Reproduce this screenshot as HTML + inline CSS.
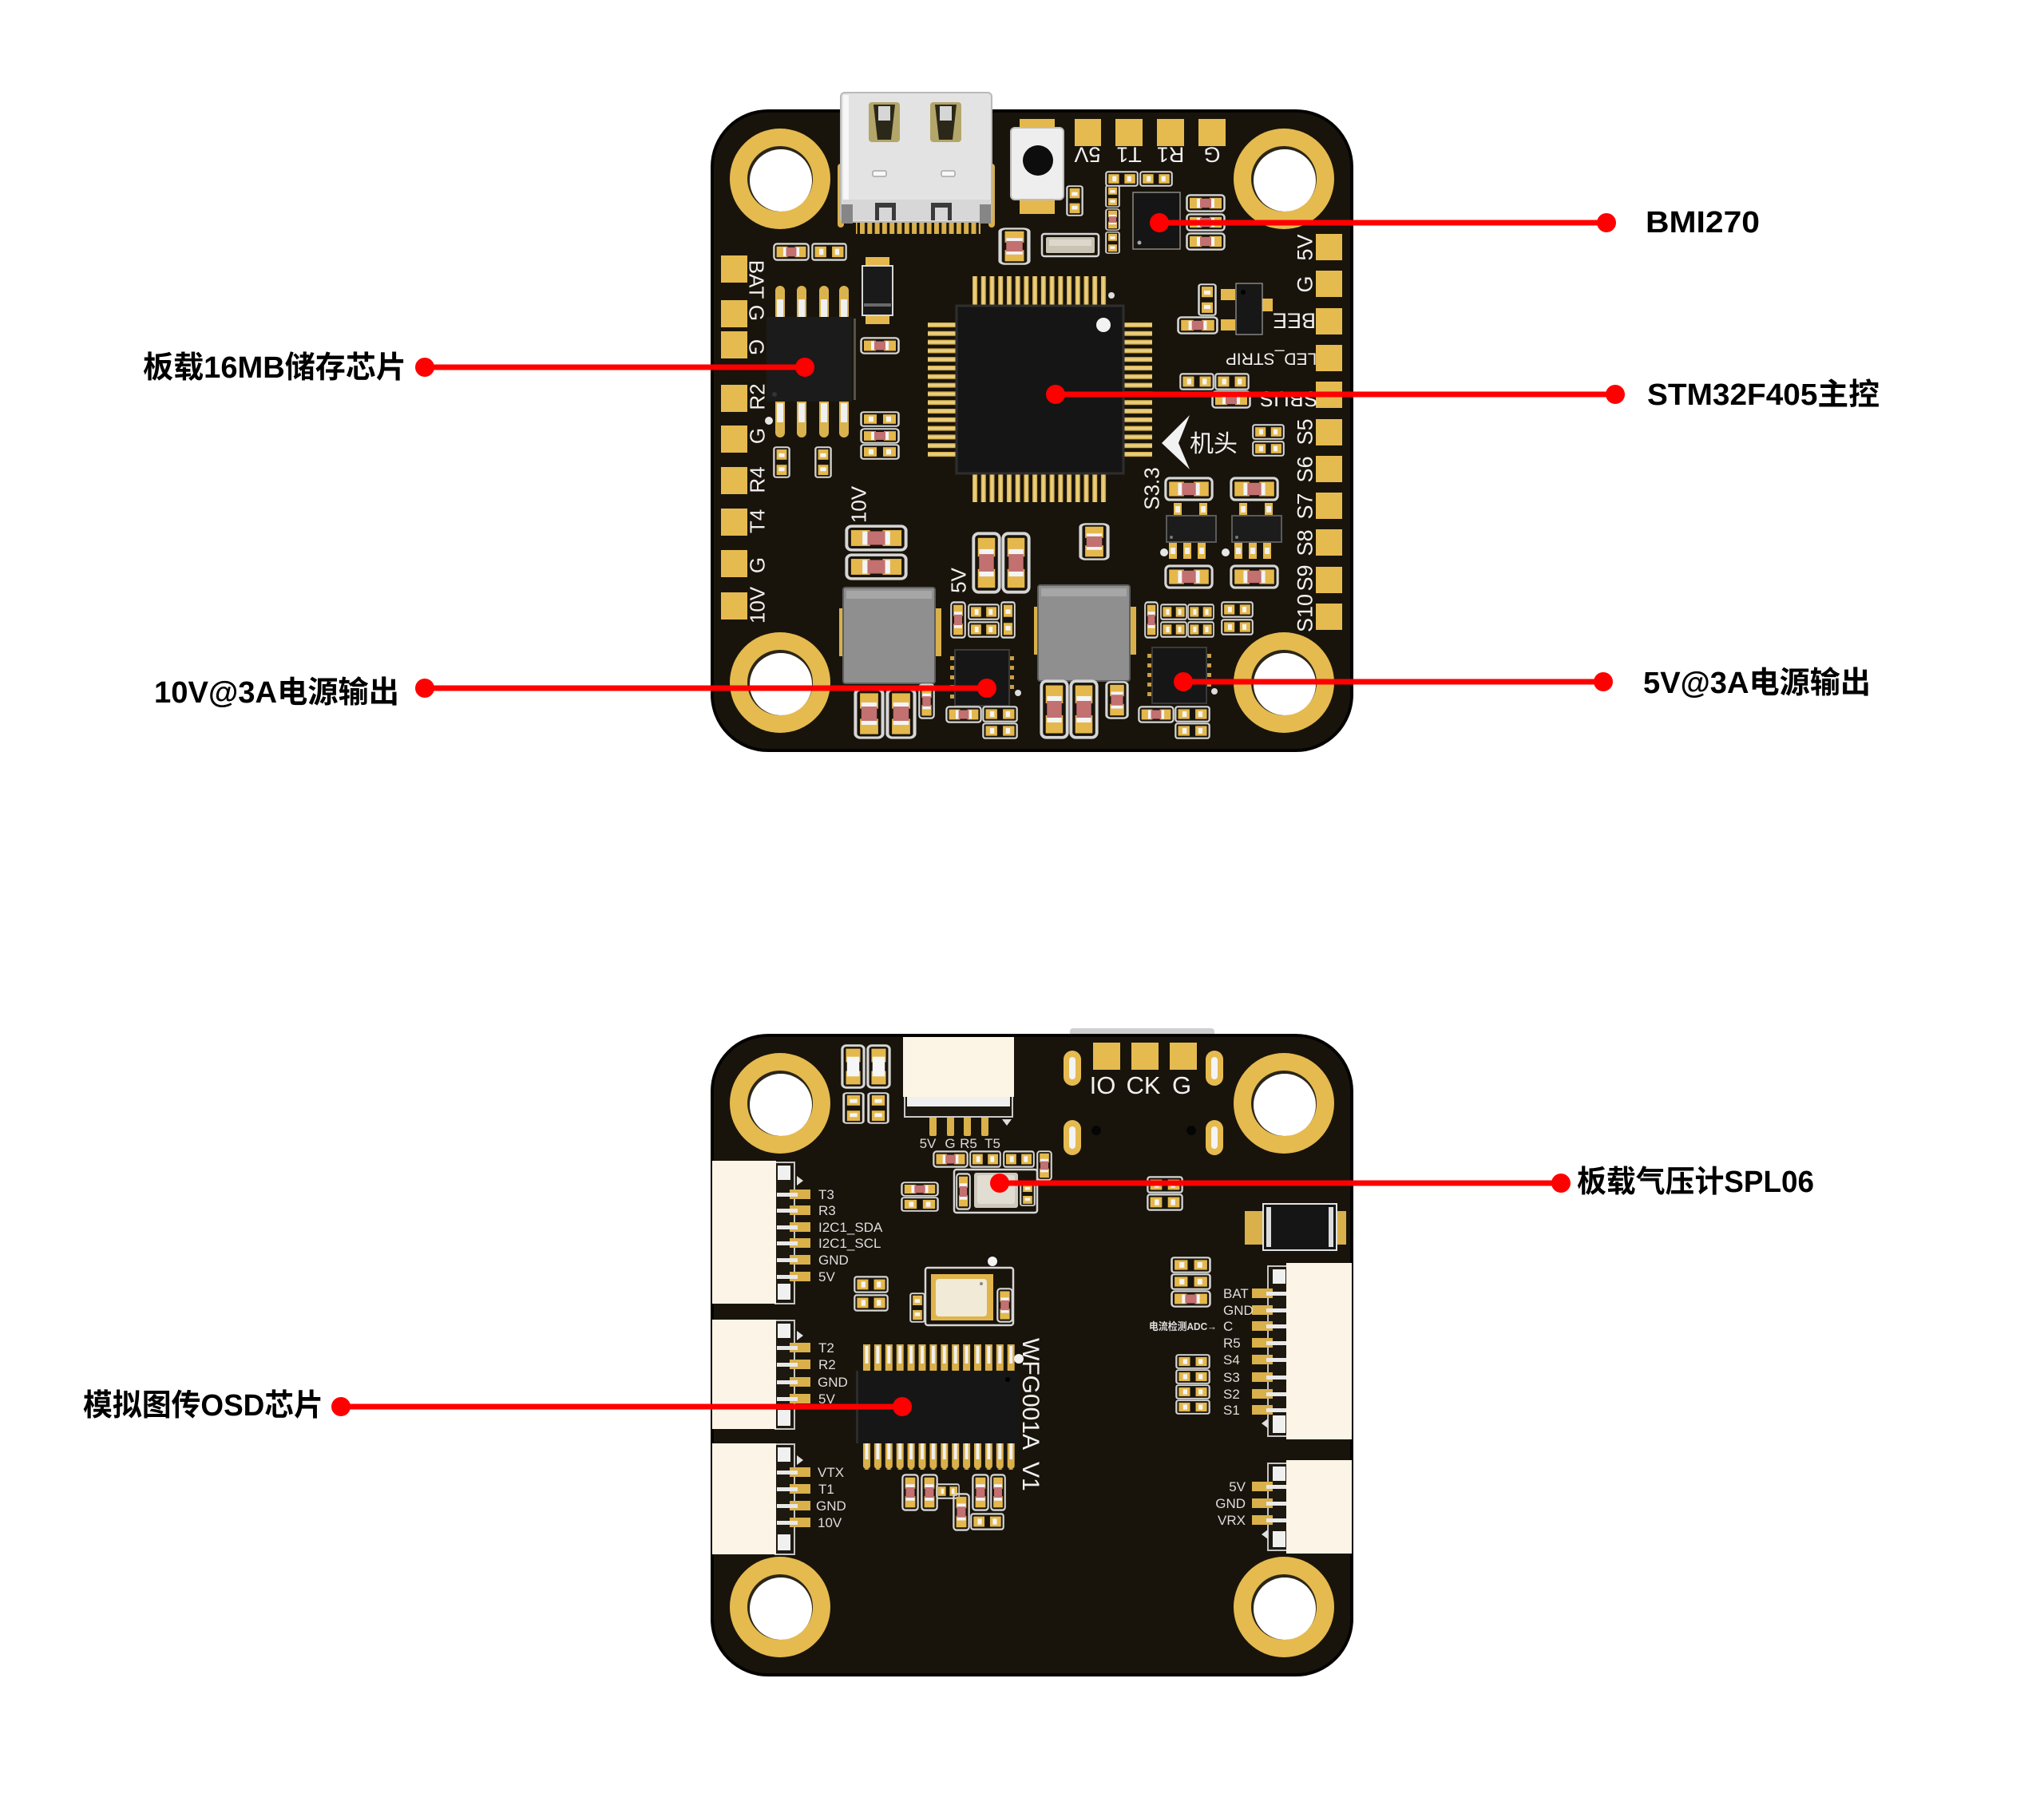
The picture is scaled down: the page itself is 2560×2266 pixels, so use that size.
<!DOCTYPE html>
<html><head><meta charset="utf-8">
<style>
html,body{margin:0;padding:0;background:#fff;}
svg{display:block;}
</style></head>
<body>
<svg xmlns="http://www.w3.org/2000/svg" width="2560" height="2266" viewBox="0 0 2560 2266">
<defs>
<symbol id="capH" viewBox="0 0 50 24" preserveAspectRatio="none">
<rect x="1.5" y="1.5" width="47" height="21" rx="4" fill="none" stroke="#d6d6d6" stroke-width="2.5"/>
<rect x="5" y="5" width="15" height="14" fill="#e4b84c"/>
<rect x="30" y="5" width="15" height="14" fill="#e4b84c"/>
<rect x="14" y="6" width="22" height="12" fill="#c27070"/>
<rect x="14" y="6" width="4" height="12" fill="#f4f4f4"/>
<rect x="32" y="6" width="4" height="12" fill="#f4f4f4"/>
</symbol>
<symbol id="capV" viewBox="0 0 24 50" preserveAspectRatio="none">
<rect x="1.5" y="1.5" width="21" height="47" rx="4" fill="none" stroke="#d6d6d6" stroke-width="2.5"/>
<rect x="5" y="5" width="14" height="15" fill="#e4b84c"/>
<rect x="5" y="30" width="14" height="15" fill="#e4b84c"/>
<rect x="6" y="14" width="12" height="22" fill="#c27070"/>
<rect x="6" y="14" width="12" height="4" fill="#f4f4f4"/>
<rect x="6" y="32" width="12" height="4" fill="#f4f4f4"/>
</symbol>
<symbol id="capW" viewBox="0 0 24 50" preserveAspectRatio="none">
<rect x="1.5" y="1.5" width="21" height="47" rx="4" fill="none" stroke="#d6d6d6" stroke-width="2.5"/>
<rect x="5" y="5" width="14" height="15" fill="#e4b84c"/>
<rect x="5" y="30" width="14" height="15" fill="#e4b84c"/>
<rect x="6" y="14" width="12" height="22" fill="#f6f6f6"/>
</symbol>
<symbol id="resS" viewBox="0 0 50 24" preserveAspectRatio="none">
<rect x="1.5" y="1.5" width="47" height="21" rx="3" fill="none" stroke="#d6d6d6" stroke-width="2.5"/>
<rect x="5" y="5" width="16" height="14" fill="#e4b84c"/>
<rect x="29" y="5" width="16" height="14" fill="#e4b84c"/>
<rect x="11" y="8" width="6" height="8" fill="#f4f4f4"/>
<rect x="33" y="8" width="6" height="8" fill="#f4f4f4"/>
</symbol>
<symbol id="resV" viewBox="0 0 24 50" preserveAspectRatio="none">
<rect x="1.5" y="1.5" width="21" height="47" rx="3" fill="none" stroke="#d6d6d6" stroke-width="2.5"/>
<rect x="5" y="5" width="14" height="16" fill="#e4b84c"/>
<rect x="5" y="29" width="14" height="16" fill="#e4b84c"/>
<rect x="8" y="11" width="8" height="6" fill="#f4f4f4"/>
<rect x="8" y="33" width="8" height="6" fill="#f4f4f4"/>
</symbol>
<pattern id="pinH" x="1218" y="0" width="10.73" height="40" patternUnits="userSpaceOnUse"><rect x="0" y="0" width="6" height="40" fill="#dab34e"/><rect x="1.5" y="0" width="3" height="40" fill="#e9cf84"/></pattern>
<pattern id="pinV" x="0" y="404" width="40" height="10.8" patternUnits="userSpaceOnUse"><rect x="0" y="0" width="40" height="6" fill="#dab34e"/><rect x="0" y="1.5" width="40" height="3" fill="#e9cf84"/></pattern>
<pattern id="usbP" x="1077" y="0" width="9.3" height="40" patternUnits="userSpaceOnUse"><rect x="0" y="0" width="6" height="40" fill="#d9b04a"/></pattern>
<pattern id="osdP" x="1081" y="0" width="13.9" height="40" patternUnits="userSpaceOnUse"><rect x="0" y="0" width="9" height="40" rx="4" fill="#d9b04a"/><rect x="2.5" y="6" width="4" height="22" fill="#f1f1f1"/></pattern>
</defs>

<!-- ================= TOP BOARD ================= -->
<rect x="892" y="139" width="801" height="801" rx="70" fill="#19140b" stroke="#040302" stroke-width="4"/>

<g>
<circle cx="977" cy="224" r="63" fill="#e5ba4f"/><circle cx="977" cy="224" r="41" fill="#2a2618"/><circle cx="978" cy="226" r="39" fill="#fff"/>
<circle cx="1608" cy="224" r="63" fill="#e5ba4f"/><circle cx="1608" cy="224" r="41" fill="#2a2618"/><circle cx="1609" cy="226" r="39" fill="#fff"/>
<circle cx="977" cy="855" r="63" fill="#e5ba4f"/><circle cx="977" cy="855" r="41" fill="#2a2618"/><circle cx="978" cy="857" r="39" fill="#fff"/>
<circle cx="1608" cy="855" r="63" fill="#e5ba4f"/><circle cx="1608" cy="855" r="41" fill="#2a2618"/><circle cx="1609" cy="857" r="39" fill="#fff"/>
</g>

<!-- USB-C -->
<g>
<rect x="1072" y="270" width="156" height="23" fill="url(#usbP)"/>
<rect x="1049" y="205" width="8" height="80" rx="4" fill="#d9b04a"/>
<rect x="1238" y="205" width="8" height="80" rx="4" fill="#d9b04a"/>
<rect x="1053" y="116" width="189" height="162" rx="5" fill="#e3e3e3" stroke="#b9b9b9" stroke-width="2"/>
<rect x="1056" y="119" width="7" height="150" fill="#f7f7f7"/>
<rect x="1088" y="128" width="39" height="50" rx="4" fill="#b3a66a"/>
<path d="M1094 131 h27 l-5 44 h-17z" fill="#2c2819"/>
<rect x="1100" y="133" width="15" height="18" fill="#d6d6d6"/>
<rect x="1165" y="128" width="39" height="50" rx="4" fill="#b3a66a"/>
<path d="M1171 131 h27 l-5 44 h-17z" fill="#2c2819"/>
<rect x="1177" y="133" width="15" height="18" fill="#d6d6d6"/>
<rect x="1093" y="214" width="17" height="7" rx="2" fill="#f8f8f8" stroke="#a8a8a8" stroke-width="1.5"/>
<rect x="1179" y="214" width="17" height="7" rx="2" fill="#f8f8f8" stroke="#a8a8a8" stroke-width="1.5"/>
<rect x="1055" y="250" width="185" height="26" fill="#d7d7d7"/>
<path d="M1096 276 v-22 h26 v22 h-5 v-16 h-16 v16z" fill="#3a3a3a"/>
<path d="M1166 276 v-22 h26 v22 h-5 v-16 h-16 v16z" fill="#3a3a3a"/>
<rect x="1054" y="256" width="14" height="24" fill="#868686"/>
<rect x="1227" y="256" width="14" height="24" fill="#868686"/>
</g>

<!-- button -->
<rect x="1277" y="149" width="44" height="14" fill="#e4b84c"/>
<rect x="1277" y="247" width="44" height="21" fill="#e4b84c"/>
<rect x="1266" y="160" width="66" height="90" rx="5" fill="#eeeeee" stroke="#bdbdbd" stroke-width="2"/>
<circle cx="1300" cy="201" r="19" fill="#0d0d0d"/>

<g fill="#e5ba4f">
<rect x="1346" y="149" width="33" height="34"/><rect x="1397" y="149" width="34" height="34"/>
<rect x="1449" y="149" width="34" height="34"/><rect x="1501" y="149" width="34" height="34"/>
</g>

<g fill="#e5ba4f">
<rect x="1648" y="293" width="33" height="33"/><rect x="1648" y="339" width="33" height="33"/>
<rect x="1648" y="386" width="33" height="33"/><rect x="1648" y="432" width="33" height="33"/>
<rect x="1648" y="478" width="33" height="33"/><rect x="1648" y="525" width="33" height="33"/>
<rect x="1648" y="571" width="33" height="33"/><rect x="1648" y="617" width="33" height="33"/>
<rect x="1648" y="663" width="33" height="33"/><rect x="1648" y="710" width="33" height="33"/>
<rect x="1648" y="756" width="33" height="33"/>
</g>

<g fill="#e5ba4f">
<rect x="903" y="320" width="33" height="34"/><rect x="903" y="376" width="33" height="34"/>
<rect x="903" y="415" width="33" height="34"/><rect x="903" y="482" width="33" height="34"/>
<rect x="903" y="533" width="33" height="34"/><rect x="903" y="585" width="33" height="34"/>
<rect x="903" y="637" width="33" height="34"/><rect x="903" y="689" width="33" height="34"/>
<rect x="903" y="742" width="33" height="34"/>
</g>

<!-- flash SOIC-8 -->
<g>
<g fill="#dab34e">
<rect x="971" y="358" width="12" height="44" rx="6"/><rect x="998" y="358" width="12" height="44" rx="6"/>
<rect x="1026" y="358" width="12" height="44" rx="6"/><rect x="1051" y="358" width="12" height="44" rx="6"/>
<rect x="971" y="498" width="12" height="50" rx="6"/><rect x="998" y="498" width="12" height="50" rx="6"/>
<rect x="1026" y="498" width="12" height="50" rx="6"/><rect x="1051" y="498" width="12" height="50" rx="6"/>
</g>
<g fill="#f0f0f0">
<rect x="973" y="375" width="8" height="22"/><rect x="1000" y="375" width="8" height="22"/>
<rect x="1028" y="375" width="8" height="22"/><rect x="1053" y="375" width="8" height="22"/>
<rect x="973" y="505" width="8" height="24"/><rect x="1000" y="505" width="8" height="24"/>
<rect x="1028" y="505" width="8" height="24"/><rect x="1053" y="505" width="8" height="24"/>
</g>
<rect x="960" y="397" width="107" height="106" fill="#1b1b1b"/>
<rect x="1069" y="399" width="3" height="102" fill="#55524a"/>
<circle cx="970" cy="494" r="3" fill="#333"/>
<circle cx="963" cy="527" r="5" fill="#e6e6e6"/>
</g>

<rect x="1084" y="322" width="30" height="14" fill="#e4b84c"/>
<rect x="1084" y="393" width="30" height="13" fill="#e4b84c"/>
<rect x="1080" y="333" width="38" height="62" fill="#1a1a1a" stroke="#d8d8d8" stroke-width="2"/>
<rect x="1082" y="380" width="34" height="4" fill="#6a6a6a"/>

<use href="#capH" x="968" y="304" width="46" height="23"/>
<use href="#resS" x="1016" y="304" width="45" height="23"/>
<use href="#capH" x="1077" y="422" width="50" height="22"/>
<use href="#resV" x="968" y="559" width="22" height="40"/>
<use href="#resV" x="1020" y="559" width="22" height="40"/>
<use href="#resS" x="1077" y="515" width="50" height="20"/>
<use href="#capH" x="1077" y="536" width="50" height="20"/>
<use href="#resS" x="1077" y="556" width="50" height="20"/>
<use href="#capV" x="1250" y="285" width="41" height="47"/>

<rect x="1305" y="293" width="71" height="28" rx="3" fill="none" stroke="#d6d6d6" stroke-width="2.5"/>
<rect x="1310" y="297" width="61" height="20" rx="2" fill="#c9c3b4"/>
<rect x="1314" y="300" width="53" height="8" fill="#ddd8cc"/>

<use href="#resV" x="1335" y="232" width="22" height="39"/>
<use href="#resV" x="1384" y="232" width="19" height="28"/>
<use href="#capV" x="1384" y="261" width="19" height="28"/>
<use href="#resV" x="1384" y="290" width="19" height="28"/>
<use href="#resS" x="1384" y="214" width="42" height="20"/>
<use href="#resS" x="1427" y="214" width="42" height="20"/>

<rect x="1419" y="241" width="59" height="71" fill="none" stroke="#8a8a8a" stroke-width="1.5"/>
<rect x="1421" y="243" width="55" height="67" fill="#151515"/>
<circle cx="1427" cy="304" r="2.5" fill="#aaa"/>

<use href="#capH" x="1485" y="243" width="50" height="23"/>
<use href="#capH" x="1485" y="267" width="50" height="23"/>
<use href="#capH" x="1485" y="291" width="50" height="23"/>

<use href="#resV" x="1500" y="355" width="24" height="41"/>
<use href="#capH" x="1474" y="396" width="52" height="23"/>
<rect x="1529" y="362" width="18" height="14" fill="#e4b84c"/>
<rect x="1529" y="400" width="18" height="14" fill="#e4b84c"/>
<rect x="1580" y="374" width="14" height="16" fill="#e4b84c"/>
<rect x="1548" y="355" width="33" height="64" fill="#171717" stroke="#bbb" stroke-width="1"/>
<circle cx="1557" cy="366" r="3" fill="#000"/>

<use href="#resS" x="1477" y="467" width="44" height="22"/>
<use href="#resS" x="1521" y="467" width="44" height="22"/>
<use href="#capH" x="1517" y="489" width="50" height="23"/>

<!-- MCU -->
<rect x="1218" y="346" width="170" height="37" fill="url(#pinH)"/>
<rect x="1218" y="593" width="170" height="36" fill="url(#pinH)"/>
<rect x="1162" y="404" width="36" height="170" fill="url(#pinV)"/>
<rect x="1407" y="404" width="36" height="170" fill="url(#pinV)"/>
<rect x="1198" y="383" width="209" height="210" fill="#151515" stroke="#2e2e2e" stroke-width="3"/>
<circle cx="1382" cy="407" r="9" fill="#f2f2f2"/>
<circle cx="1392" cy="370" r="4" fill="#ddd"/>

<polygon points="1490,520 1455,555 1490,588 1476,555" fill="#f2f2f2"/>
<use href="#resS" x="1568" y="531" width="41" height="20"/>
<use href="#resS" x="1568" y="552" width="41" height="20"/>

<!-- SOT-23 pair -->
<g>
<use href="#capH" x="1458" y="597" width="62" height="31"/>
<rect x="1470" y="630" width="10" height="22" fill="#e4b84c"/><rect x="1502" y="630" width="10" height="22" fill="#e4b84c"/>
<rect x="1472" y="634" width="6" height="8" fill="#f0f0f0"/><rect x="1504" y="634" width="6" height="8" fill="#f0f0f0"/>
<rect x="1464" y="676" width="10" height="24" fill="#e4b84c"/><rect x="1482" y="676" width="10" height="24" fill="#e4b84c"/><rect x="1500" y="676" width="10" height="24" fill="#e4b84c"/>
<rect x="1466" y="686" width="6" height="8" fill="#f0f0f0"/><rect x="1484" y="686" width="6" height="8" fill="#f0f0f0"/><rect x="1502" y="686" width="6" height="8" fill="#f0f0f0"/>
<rect x="1461" y="646" width="62" height="33" fill="#1c1c1c" stroke="#5a5a5a" stroke-width="2"/>
<circle cx="1467" cy="673" r="2" fill="#777"/>
<circle cx="1458" cy="692" r="5" fill="#e6e6e6"/>
<use href="#capH" x="1458" y="707" width="62" height="31"/>
<use href="#capH" x="1540" y="597" width="62" height="31"/>
<rect x="1552" y="630" width="10" height="22" fill="#e4b84c"/><rect x="1584" y="630" width="10" height="22" fill="#e4b84c"/>
<rect x="1554" y="634" width="6" height="8" fill="#f0f0f0"/><rect x="1586" y="634" width="6" height="8" fill="#f0f0f0"/>
<rect x="1546" y="676" width="10" height="24" fill="#e4b84c"/><rect x="1564" y="676" width="10" height="24" fill="#e4b84c"/><rect x="1582" y="676" width="10" height="24" fill="#e4b84c"/>
<rect x="1548" y="686" width="6" height="8" fill="#f0f0f0"/><rect x="1566" y="686" width="6" height="8" fill="#f0f0f0"/><rect x="1584" y="686" width="6" height="8" fill="#f0f0f0"/>
<rect x="1543" y="646" width="62" height="33" fill="#1c1c1c" stroke="#5a5a5a" stroke-width="2"/>
<circle cx="1549" cy="673" r="2" fill="#777"/>
<circle cx="1535" cy="692" r="5" fill="#e6e6e6"/>
<use href="#capH" x="1540" y="707" width="62" height="31"/>
</g>

<use href="#capH" x="1058" y="657" width="79" height="34"/>
<use href="#capH" x="1058" y="693" width="79" height="34"/>
<use href="#capV" x="1351" y="655" width="39" height="47"/>
<use href="#capV" x="1217" y="666" width="37" height="78"/>
<use href="#capV" x="1254" y="666" width="37" height="78"/>
<use href="#capV" x="1190" y="753" width="20" height="47"/>
<use href="#resS" x="1212" y="756" width="40" height="21"/>
<use href="#resS" x="1212" y="778" width="40" height="21"/>
<use href="#resV" x="1253" y="753" width="19" height="47"/>

<rect x="1051" y="762" width="8" height="60" fill="#d9b04a"/>
<rect x="1169" y="762" width="10" height="60" fill="#d9b04a"/>
<rect x="1056" y="736" width="115" height="120" rx="3" fill="#8f8f8f" stroke="#5e5e5e" stroke-width="2"/>
<rect x="1060" y="740" width="107" height="10" fill="#a6a6a6"/>
<rect x="1295" y="760" width="8" height="60" fill="#d9b04a"/>
<rect x="1413" y="760" width="10" height="60" fill="#d9b04a"/>
<rect x="1300" y="733" width="115" height="120" rx="3" fill="#8f8f8f" stroke="#5e5e5e" stroke-width="2"/>
<rect x="1304" y="737" width="107" height="10" fill="#a6a6a6"/>

<g fill="#c9a045">
<rect x="1190" y="822" width="7" height="5"/><rect x="1190" y="834" width="7" height="5"/><rect x="1190" y="846" width="7" height="5"/><rect x="1190" y="858" width="7" height="5"/><rect x="1190" y="870" width="7" height="5"/>
<rect x="1263" y="822" width="7" height="5"/><rect x="1263" y="834" width="7" height="5"/><rect x="1263" y="846" width="7" height="5"/><rect x="1263" y="858" width="7" height="5"/>
<rect x="1437" y="819" width="7" height="5"/><rect x="1437" y="831" width="7" height="5"/><rect x="1437" y="843" width="7" height="5"/><rect x="1437" y="855" width="7" height="5"/><rect x="1437" y="867" width="7" height="5"/>
<rect x="1510" y="819" width="7" height="5"/><rect x="1510" y="831" width="7" height="5"/><rect x="1510" y="843" width="7" height="5"/><rect x="1510" y="855" width="7" height="5"/>
</g>
<rect x="1196" y="814" width="68" height="70" fill="#161616" stroke="#3a3a3a" stroke-width="2"/>
<circle cx="1275" cy="868" r="4" fill="#ddd"/>
<rect x="1443" y="811" width="68" height="70" fill="#161616" stroke="#3a3a3a" stroke-width="2"/>
<circle cx="1521" cy="866" r="4" fill="#ddd"/>

<use href="#capV" x="1069" y="862" width="39" height="64"/>
<use href="#capV" x="1109" y="862" width="39" height="64"/>
<use href="#capV" x="1150" y="856" width="21" height="45"/>
<use href="#capH" x="1184" y="884" width="46" height="22"/>
<use href="#resS" x="1230" y="884" width="45" height="21"/>
<use href="#resS" x="1230" y="905" width="45" height="21"/>
<use href="#capV" x="1302" y="851" width="37" height="75"/>
<use href="#capV" x="1339" y="851" width="37" height="75"/>
<use href="#capV" x="1384" y="853" width="30" height="48"/>
<use href="#capV" x="1433" y="753" width="18" height="47"/>
<use href="#resS" x="1453" y="756" width="34" height="21"/>
<use href="#resS" x="1487" y="756" width="34" height="21"/>
<use href="#resS" x="1453" y="778" width="34" height="21"/>
<use href="#resS" x="1487" y="778" width="34" height="21"/>
<use href="#resS" x="1529" y="753" width="41" height="21"/>
<use href="#resS" x="1529" y="775" width="41" height="21"/>
<use href="#capH" x="1425" y="884" width="46" height="22"/>
<use href="#resS" x="1471" y="884" width="45" height="21"/>
<use href="#resS" x="1471" y="905" width="45" height="21"/>

<g font-family="'Liberation Sans','Noto Sans CJK SC',sans-serif" fill="#f0f0f0" font-size="27" text-anchor="middle">
<text transform="translate(1362,194) rotate(180)" dy="0.36em">5V</text>
<text transform="translate(1414,194) rotate(180)" dy="0.36em">T1</text>
<text transform="translate(1466,194) rotate(180)" dy="0.36em">R1</text>
<text transform="translate(1518,194) rotate(180)" dy="0.36em">G</text>

<text transform="translate(1634,310) rotate(-90)" dy="0.36em">5V</text>
<text transform="translate(1634,356) rotate(-90)" dy="0.36em">G</text>
<text transform="translate(1621,402) rotate(180)" dy="0.36em">BEE</text>
<text transform="translate(1592,450) rotate(180)" dy="0.36em" font-size="21">LED_STRIP</text>
<text transform="translate(1614,500) rotate(180)" dy="0.36em">SBUS</text>
<text transform="translate(1634,541) rotate(-90)" dy="0.36em">S5</text>
<text transform="translate(1634,588) rotate(-90)" dy="0.36em">S6</text>
<text transform="translate(1634,634) rotate(-90)" dy="0.36em">S7</text>
<text transform="translate(1634,680) rotate(-90)" dy="0.36em">S8</text>
<text transform="translate(1634,724) rotate(-90)" dy="0.36em">S9</text>
<text transform="translate(1634,768) rotate(-90)" dy="0.36em">S10</text>

<text transform="translate(948,350) rotate(90)" dy="0.36em" font-size="26">BAT</text>
<text transform="translate(948,392) rotate(90)" dy="0.36em" font-size="26">G</text>
<text transform="translate(948,435) rotate(90)" dy="0.36em" font-size="26">G</text>
<text transform="translate(948,497) rotate(-90)" dy="0.36em" font-size="26">R2</text>
<text transform="translate(948,546) rotate(-90)" dy="0.36em" font-size="26">G</text>
<text transform="translate(948,601) rotate(-90)" dy="0.36em" font-size="26">R4</text>
<text transform="translate(948,653) rotate(-90)" dy="0.36em" font-size="26">T4</text>
<text transform="translate(948,708) rotate(-90)" dy="0.36em" font-size="26">G</text>
<text transform="translate(948,758) rotate(-90)" dy="0.36em" font-size="26">10V</text>

<text transform="translate(1075,632) rotate(-90)" dy="0.36em" font-size="26">10V</text>
<text transform="translate(1200,727) rotate(-90)" dy="0.36em" font-size="26">5V</text>
<text transform="translate(1442,612) rotate(-90)" dy="0.36em" font-size="26">S3.3</text>
<text x="1520" y="566" font-size="30">机头</text>
</g>

<!-- ================= BOTTOM BOARD ================= -->
<rect x="1340" y="1288" width="181" height="12" rx="4" fill="#cfcfcf"/>
<rect x="892" y="1297" width="801" height="801" rx="70" fill="#19140b" stroke="#040302" stroke-width="4"/>

<g>
<circle cx="977" cy="1382" r="63" fill="#e5ba4f"/><circle cx="977" cy="1382" r="41" fill="#2a2618"/><circle cx="978" cy="1384" r="39" fill="#fff"/>
<circle cx="1608" cy="1382" r="63" fill="#e5ba4f"/><circle cx="1608" cy="1382" r="41" fill="#2a2618"/><circle cx="1609" cy="1384" r="39" fill="#fff"/>
<circle cx="977" cy="2013" r="63" fill="#e5ba4f"/><circle cx="977" cy="2013" r="41" fill="#2a2618"/><circle cx="978" cy="2015" r="39" fill="#fff"/>
<circle cx="1608" cy="2013" r="63" fill="#e5ba4f"/><circle cx="1608" cy="2013" r="41" fill="#2a2618"/><circle cx="1609" cy="2015" r="39" fill="#fff"/>
</g>

<use href="#capW" x="1053" y="1308" width="31" height="56"/>
<use href="#capW" x="1085" y="1308" width="31" height="56"/>
<use href="#resV" x="1055" y="1368" width="28" height="40"/>
<use href="#resV" x="1086" y="1368" width="28" height="40"/>

<g fill="#d9b04a">
<rect x="1164" y="1384" width="9" height="39" rx="2"/><rect x="1186" y="1384" width="9" height="39" rx="2"/>
<rect x="1207" y="1384" width="9" height="39" rx="2"/><rect x="1229" y="1384" width="9" height="39" rx="2"/>
</g>
<rect x="1133" y="1370" width="135" height="29" fill="#1d1910" stroke="#c9c9c9" stroke-width="2"/>
<rect x="1136" y="1372" width="129" height="14" fill="#efefef"/>
<rect x="1131" y="1299" width="139" height="75" fill="#fcf4e4"/>
<polygon points="1255,1402 1267,1402 1261,1410" fill="#ddd"/>
<g font-family="'Liberation Sans',sans-serif" fill="#dcdcdc" font-size="17" text-anchor="middle">
<text x="1162" y="1438">5V</text><text x="1190" y="1438">G</text><text x="1213" y="1438">R5</text><text x="1243" y="1438">T5</text>
</g>

<g fill="#e5ba4f">
<rect x="1369" y="1306" width="34" height="34"/><rect x="1417" y="1306" width="34" height="34"/><rect x="1465" y="1306" width="34" height="34"/>
<rect x="1332" y="1316" width="22" height="44" rx="11"/><rect x="1510" y="1316" width="22" height="44" rx="11"/>
<rect x="1332" y="1403" width="22" height="44" rx="11"/><rect x="1510" y="1403" width="22" height="44" rx="11"/>
</g>
<g fill="#f4f4f4">
<rect x="1339" y="1324" width="8" height="28" rx="4"/><rect x="1517" y="1324" width="8" height="28" rx="4"/>
<rect x="1339" y="1411" width="8" height="28" rx="4"/><rect x="1517" y="1411" width="8" height="28" rx="4"/>
</g>
<circle cx="1373" cy="1416" r="6" fill="#050505"/>
<circle cx="1492" cy="1416" r="6" fill="#050505"/>
<g font-family="'Liberation Sans',sans-serif" fill="#f0f0f0" font-size="31" text-anchor="middle">
<text x="1381" y="1370">IO</text><text x="1432" y="1370">CK</text><text x="1480" y="1370">G</text>
</g>

<use href="#capH" x="1168" y="1441" width="45" height="22"/>
<use href="#resS" x="1214" y="1441" width="40" height="22"/>
<use href="#resS" x="1256" y="1441" width="40" height="22"/>
<use href="#capV" x="1298" y="1441" width="20" height="38"/>
<rect x="1195" y="1465" width="104" height="54" rx="3" fill="none" stroke="#d6d6d6" stroke-width="2.5"/>
<use href="#capV" x="1197" y="1469" width="19" height="47"/>
<rect x="1220" y="1469" width="55" height="44" rx="3" fill="#cfc9bd"/>
<rect x="1224" y="1472" width="47" height="36" rx="3" fill="#e2ddd2"/>
<use href="#resV" x="1277" y="1480" width="20" height="31"/>
<use href="#capH" x="1128" y="1480" width="48" height="19"/>
<use href="#resS" x="1128" y="1499" width="48" height="19"/>
<use href="#resS" x="1436" y="1473" width="46" height="22"/>
<use href="#resS" x="1436" y="1495" width="46" height="22"/>

<rect x="1559" y="1517" width="28" height="42" fill="#d9b04a"/>
<rect x="1670" y="1517" width="16" height="42" fill="#d9b04a"/>
<rect x="1582" y="1508" width="92" height="58" fill="#151515" stroke="#e2e2e2" stroke-width="2"/>
<rect x="1586" y="1512" width="6" height="50" fill="#dcdcdc"/>
<rect x="1664" y="1512" width="6" height="50" fill="#dcdcdc"/>

<use href="#resS" x="1466" y="1574" width="51" height="21"/>
<use href="#resS" x="1466" y="1595" width="51" height="21"/>
<use href="#capH" x="1466" y="1616" width="51" height="22"/>
<use href="#resS" x="1472" y="1696" width="44" height="19"/>
<use href="#resS" x="1472" y="1715" width="44" height="19"/>
<use href="#resS" x="1472" y="1734" width="44" height="19"/>
<use href="#resS" x="1472" y="1753" width="44" height="19"/>

<g>
<rect x="971" y="1456" width="24" height="177" fill="#1d1910" stroke="#c4c4c4" stroke-width="2"/>
<rect x="974" y="1460" width="16" height="18" fill="#f0f0f0"/><rect x="974" y="1608" width="16" height="20" fill="#f0f0f0"/>
<rect x="971" y="1654" width="24" height="136" fill="#1d1910" stroke="#c4c4c4" stroke-width="2"/>
<rect x="974" y="1658" width="16" height="18" fill="#f0f0f0"/><rect x="974" y="1766" width="16" height="20" fill="#f0f0f0"/>
<rect x="971" y="1809" width="24" height="138" fill="#1d1910" stroke="#c4c4c4" stroke-width="2"/>
<rect x="974" y="1813" width="16" height="18" fill="#f0f0f0"/><rect x="974" y="1922" width="16" height="20" fill="#f0f0f0"/>
<g fill="#d9b04a">
<rect x="989" y="1490" width="26" height="12"/><rect x="989" y="1510" width="26" height="12"/><rect x="989" y="1531" width="26" height="12"/>
<rect x="989" y="1551" width="26" height="12"/><rect x="989" y="1572" width="26" height="12"/><rect x="989" y="1593" width="26" height="12"/>
<rect x="989" y="1682" width="26" height="12"/><rect x="989" y="1703" width="26" height="12"/><rect x="989" y="1725" width="26" height="12"/><rect x="989" y="1746" width="26" height="12"/>
<rect x="989" y="1838" width="26" height="12"/><rect x="989" y="1859" width="26" height="12"/><rect x="989" y="1880" width="26" height="12"/><rect x="989" y="1901" width="26" height="12"/>
</g>
<g fill="#e8e8e8">
<rect x="973" y="1494" width="26" height="5"/><rect x="973" y="1514" width="26" height="5"/><rect x="973" y="1535" width="26" height="5"/>
<rect x="973" y="1555" width="26" height="5"/><rect x="973" y="1576" width="26" height="5"/><rect x="973" y="1597" width="26" height="5"/>
<rect x="973" y="1686" width="26" height="5"/><rect x="973" y="1707" width="26" height="5"/><rect x="973" y="1729" width="26" height="5"/><rect x="973" y="1750" width="26" height="5"/>
<rect x="973" y="1842" width="26" height="5"/><rect x="973" y="1863" width="26" height="5"/><rect x="973" y="1884" width="26" height="5"/><rect x="973" y="1905" width="26" height="5"/>
</g>
<rect x="892" y="1454" width="80" height="179" fill="#fcf4e6"/>
<rect x="892" y="1653" width="80" height="137" fill="#fcf4e6"/>
<rect x="892" y="1808" width="80" height="139" fill="#fcf4e6"/>
<polygon points="998,1473 1006,1479 998,1485" fill="#e0e0e0"/>
<polygon points="998,1667 1006,1673 998,1679" fill="#e0e0e0"/>
<polygon points="998,1823 1006,1829 998,1835" fill="#e0e0e0"/>
</g>
<g font-family="'Liberation Sans',sans-serif" fill="#dedede" font-size="17">
<text x="1025" y="1502">T3</text><text x="1025" y="1522">R3</text><text x="1025" y="1543">I2C1_SDA</text>
<text x="1025" y="1563">I2C1_SCL</text><text x="1025" y="1584">GND</text><text x="1025" y="1605">5V</text>
<text x="1025" y="1694">T2</text><text x="1025" y="1715">R2</text><text x="1024" y="1737">GND</text><text x="1025" y="1758">5V</text>
<text x="1024" y="1850">VTX</text><text x="1025" y="1871">T1</text><text x="1022" y="1892">GND</text><text x="1024" y="1913">10V</text>
</g>

<g>
<rect x="1588" y="1586" width="24" height="213" fill="#1d1910" stroke="#c4c4c4" stroke-width="2"/>
<rect x="1594" y="1590" width="16" height="18" fill="#f0f0f0"/><rect x="1594" y="1773" width="16" height="22" fill="#f0f0f0"/>
<rect x="1588" y="1833" width="24" height="109" fill="#1d1910" stroke="#c4c4c4" stroke-width="2"/>
<rect x="1594" y="1837" width="16" height="18" fill="#f0f0f0"/><rect x="1594" y="1918" width="16" height="20" fill="#f0f0f0"/>
<g fill="#d9b04a">
<rect x="1568" y="1614" width="26" height="12"/><rect x="1568" y="1635" width="26" height="12"/><rect x="1568" y="1655" width="26" height="12"/><rect x="1568" y="1676" width="26" height="12"/>
<rect x="1568" y="1697" width="26" height="12"/><rect x="1568" y="1719" width="26" height="12"/><rect x="1568" y="1740" width="26" height="12"/><rect x="1568" y="1760" width="26" height="12"/>
<rect x="1568" y="1856" width="26" height="12"/><rect x="1568" y="1877" width="26" height="12"/><rect x="1568" y="1898" width="26" height="12"/>
</g>
<g fill="#e8e8e8">
<rect x="1586" y="1618" width="26" height="5"/><rect x="1586" y="1639" width="26" height="5"/><rect x="1586" y="1659" width="26" height="5"/><rect x="1586" y="1680" width="26" height="5"/>
<rect x="1586" y="1701" width="26" height="5"/><rect x="1586" y="1723" width="26" height="5"/><rect x="1586" y="1744" width="26" height="5"/><rect x="1586" y="1764" width="26" height="5"/>
<rect x="1586" y="1860" width="26" height="5"/><rect x="1586" y="1881" width="26" height="5"/><rect x="1586" y="1902" width="26" height="5"/>
</g>
<rect x="1611" y="1582" width="82" height="221" fill="#fcf4e6"/>
<rect x="1611" y="1829" width="82" height="117" fill="#fcf4e6"/>
<polygon points="1588,1777 1580,1783 1588,1789" fill="#e0e0e0"/>
<polygon points="1588,1916 1580,1922 1588,1928" fill="#e0e0e0"/>
</g>
<g font-family="'Liberation Sans',sans-serif" fill="#dedede" font-size="17">
<text x="1532" y="1626">BAT</text><text x="1532" y="1647">GND</text><text x="1532" y="1667">C</text><text x="1532" y="1688">R5</text>
<text x="1532" y="1709">S4</text><text x="1532" y="1731">S3</text><text x="1532" y="1752">S2</text><text x="1532" y="1772">S1</text>
<text x="1560" y="1868" text-anchor="end">5V</text><text x="1560" y="1889" text-anchor="end">GND</text><text x="1560" y="1910" text-anchor="end">VRX</text>
</g>
<text x="1439" y="1666" font-family="'Liberation Sans','Noto Sans CJK SC',sans-serif" font-size="13" font-weight="bold" fill="#dedede" textLength="85" lengthAdjust="spacingAndGlyphs">电流检测ADC→</text>

<rect x="1159" y="1588" width="110" height="72" rx="3" fill="none" stroke="#d6d6d6" stroke-width="2.5"/>
<rect x="1166" y="1596" width="78" height="58" fill="#e0b44b"/>
<rect x="1172" y="1602" width="64" height="47" rx="4" fill="#f1ead7"/>
<circle cx="1229" cy="1608" r="2" fill="#888"/>
<use href="#resV" x="1139" y="1619" width="20" height="38"/>
<use href="#capV" x="1248" y="1613" width="21" height="44"/>
<circle cx="1243" cy="1580" r="6" fill="#f4f4f4"/>
<use href="#resS" x="1069" y="1598" width="44" height="22"/>
<use href="#resS" x="1069" y="1621" width="44" height="22"/>

<rect x="1081" y="1684" width="190" height="36" fill="url(#osdP)"/>
<rect x="1081" y="1806" width="190" height="35" fill="url(#osdP)"/>
<rect x="1072" y="1717" width="205" height="91" fill="#161616"/>
<rect x="1072" y="1717" width="3" height="91" fill="#2c2c2c"/>
<circle cx="1262" cy="1728" r="3" fill="#000"/>
<circle cx="1276" cy="1702" r="6" fill="#f2f2f2"/>
<g font-family="'Liberation Sans',sans-serif" fill="#f0f0f0" font-size="30">
<text transform="translate(1281,1676) rotate(90)">WFG001A</text>
<text transform="translate(1281,1831) rotate(90)">V1</text>
</g>
<use href="#capV" x="1129" y="1846" width="22" height="47"/>
<use href="#capV" x="1153" y="1846" width="22" height="47"/>
<use href="#resS" x="1172" y="1858" width="30" height="20"/>
<use href="#capV" x="1193" y="1870" width="22" height="48"/>
<use href="#capV" x="1217" y="1846" width="22" height="47"/>
<use href="#capV" x="1240" y="1846" width="20" height="47"/>
<use href="#resS" x="1215" y="1895" width="43" height="22"/>

<!-- ================= CALLOUTS ================= -->
<g stroke="#ff0000" stroke-width="7">
<line x1="1452" y1="279" x2="2012" y2="279"/>
<line x1="1322" y1="494" x2="2023" y2="494"/>
<line x1="1482" y1="854" x2="2008" y2="854"/>
<line x1="532" y1="460" x2="1008" y2="460"/>
<line x1="532" y1="862" x2="1236" y2="862"/>
<line x1="1252" y1="1482" x2="1955" y2="1482"/>
<line x1="427" y1="1762" x2="1130" y2="1762"/>
</g>
<g fill="#ff0000">
<circle cx="1452" cy="279" r="12"/><circle cx="2012" cy="279" r="12"/>
<circle cx="1322" cy="494" r="12"/><circle cx="2023" cy="494" r="12"/>
<circle cx="1482" cy="854" r="12"/><circle cx="2008" cy="854" r="12"/>
<circle cx="532" cy="460" r="12"/><circle cx="1008" cy="460" r="12"/>
<circle cx="532" cy="862" r="12"/><circle cx="1236" cy="862" r="12"/>
<circle cx="1252" cy="1482" r="12"/><circle cx="1955" cy="1482" r="12"/>
<circle cx="427" cy="1762" r="12"/><circle cx="1130" cy="1762" r="12"/>
</g>

<g font-family="'Liberation Sans','Noto Sans CJK SC',sans-serif" font-weight="bold" font-size="38" fill="#000">
<text x="179" y="473" textLength="330" lengthAdjust="spacingAndGlyphs">板载16MB储存芯片</text>
<text x="193" y="880" textLength="307" lengthAdjust="spacingAndGlyphs">10V@3A电源输出</text>
<text x="2061" y="291" textLength="143" lengthAdjust="spacingAndGlyphs">BMI270</text>
<text x="2063" y="507" textLength="291" lengthAdjust="spacingAndGlyphs">STM32F405主控</text>
<text x="2058" y="868" textLength="285" lengthAdjust="spacingAndGlyphs">5V@3A电源输出</text>
<text x="1975" y="1493" textLength="297" lengthAdjust="spacingAndGlyphs">板载气压计SPL06</text>
<text x="104" y="1773" textLength="301" lengthAdjust="spacingAndGlyphs">模拟图传OSD芯片</text>
</g>
</svg>
</body></html>
